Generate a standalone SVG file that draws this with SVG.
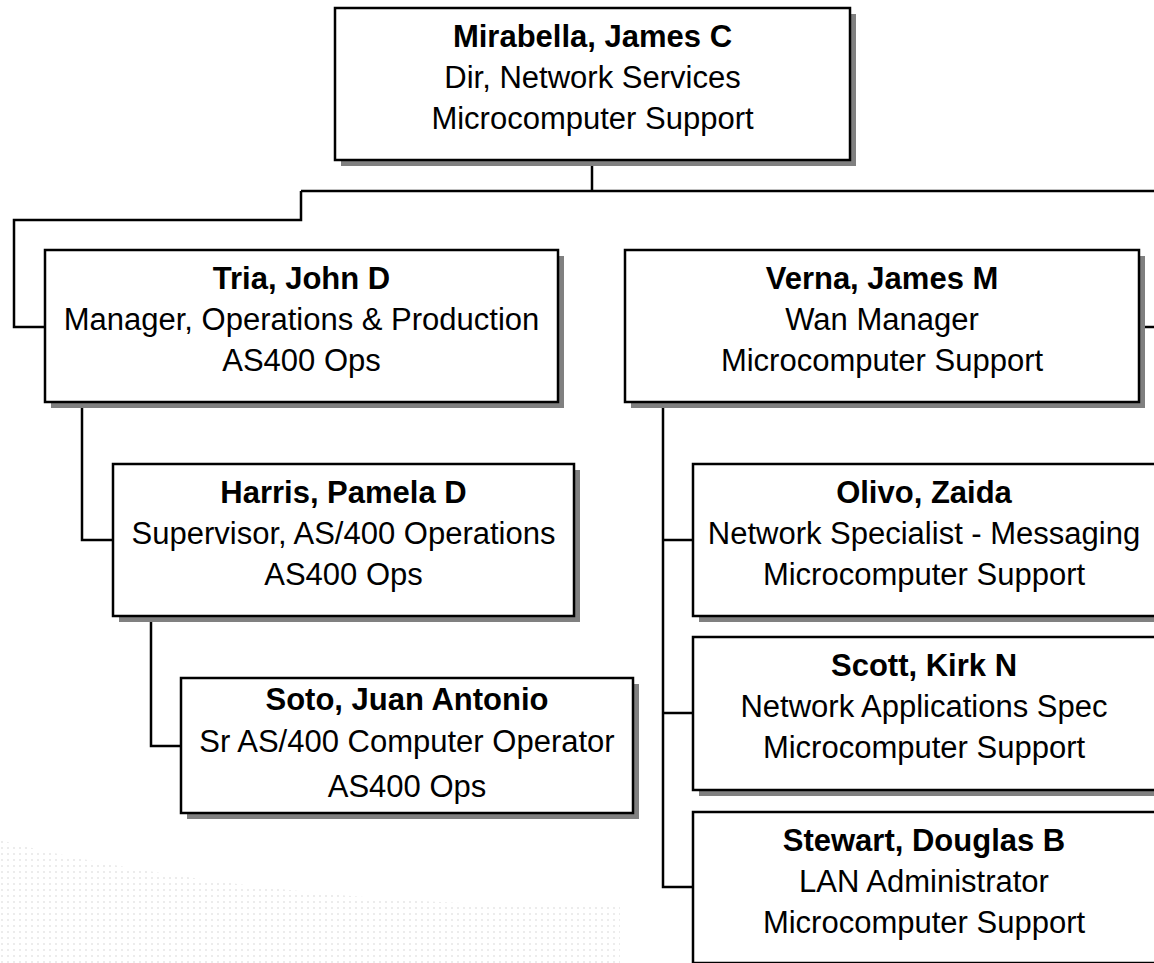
<svg xmlns="http://www.w3.org/2000/svg" width="1154" height="963" viewBox="0 0 1154 963">
<defs>
<style>
.sh{fill:#808080}
.bx{fill:#fff;stroke:#000;stroke-width:2.5}
.cn{fill:none;stroke:#000;stroke-width:2.5}
text{font-family:"Liberation Sans",Arial,sans-serif;font-size:31px;fill:#000;text-anchor:middle}
.nm{font-weight:bold}
</style>
<pattern id="dots" width="6" height="6" patternUnits="userSpaceOnUse"><rect x="1" y="1" width="2" height="2" fill="#ececec"/></pattern>
</defs>
<rect width="1154" height="963" fill="#fff"/>
<path d="M0,840 C150,880 400,910 620,905 L620,963 L0,963 Z" fill="url(#dots)"/>
<path d="M1000,963 L1000,900 C1060,880 1110,850 1154,830 L1154,963 Z" fill="url(#dots)"/>
<g id="connectors">
<path class="cn" d="M592,160 V191 M301,191 H1154 M301,191 V220 H14 V327 H45"/>
<path class="cn" d="M1139,327 H1154"/>
<path class="cn" d="M82,402 V540 H113"/>
<path class="cn" d="M151,616 V746 H181"/>
<path class="cn" d="M663,402 V887 H693 M663,540 H693 M663,713 H693"/>
</g>
<g id="mirabella">
<rect class="sh" x="341" y="14" width="515" height="152"/>
<rect class="bx" x="335" y="8" width="515" height="152"/>
<text class="nm" x="592.5" y="47">Mirabella, James C</text>
<text x="592.5" y="88">Dir, Network Services</text>
<text x="592.5" y="129">Microcomputer Support</text>
</g>
<g id="tria">
<rect class="sh" x="51" y="256" width="513" height="152"/>
<rect class="bx" x="45" y="250" width="513" height="152"/>
<text class="nm" x="301.5" y="289">Tria, John D</text>
<text x="301.5" y="330">Manager, Operations &amp; Production</text>
<text x="301.5" y="371">AS400 Ops</text>
</g>
<g id="verna">
<rect class="sh" x="631" y="256" width="514" height="152"/>
<rect class="bx" x="625" y="250" width="514" height="152"/>
<text class="nm" x="882" y="289">Verna, James M</text>
<text x="882" y="330">Wan Manager</text>
<text x="882" y="371">Microcomputer Support</text>
</g>
<g id="harris">
<rect class="sh" x="119" y="470" width="461" height="152"/>
<rect class="bx" x="113" y="464" width="461" height="152"/>
<text class="nm" x="343.5" y="503">Harris, Pamela D</text>
<text x="343.5" y="544">Supervisor, AS/400 Operations</text>
<text x="343.5" y="585">AS400 Ops</text>
</g>
<g id="soto">
<rect class="sh" x="187" y="684" width="452" height="135"/>
<rect class="bx" x="181" y="678" width="452" height="135"/>
<text class="nm" x="407" y="710">Soto, Juan Antonio</text>
<text x="407" y="752">Sr AS/400 Computer Operator</text>
<text x="407" y="797">AS400 Ops</text>
</g>
<g id="olivo">
<rect class="sh" x="699" y="470" width="470" height="152"/>
<rect class="bx" x="693" y="464" width="470" height="152"/>
<text class="nm" x="924" y="503">Olivo, Zaida</text>
<text x="924" y="544">Network Specialist - Messaging</text>
<text x="924" y="585">Microcomputer Support</text>
</g>
<g id="scott">
<rect class="sh" x="699" y="643" width="470" height="153"/>
<rect class="bx" x="693" y="637" width="470" height="153"/>
<text class="nm" x="924" y="676">Scott, Kirk N</text>
<text x="924" y="717">Network Applications Spec</text>
<text x="924" y="758">Microcomputer Support</text>
</g>
<g id="stewart">
<rect class="sh" x="699" y="818" width="470" height="152"/>
<rect class="bx" x="693" y="812" width="470" height="151"/>
<text class="nm" x="924" y="851">Stewart, Douglas B</text>
<text x="924" y="892">LAN Administrator</text>
<text x="924" y="933">Microcomputer Support</text>
</g>
</svg>
